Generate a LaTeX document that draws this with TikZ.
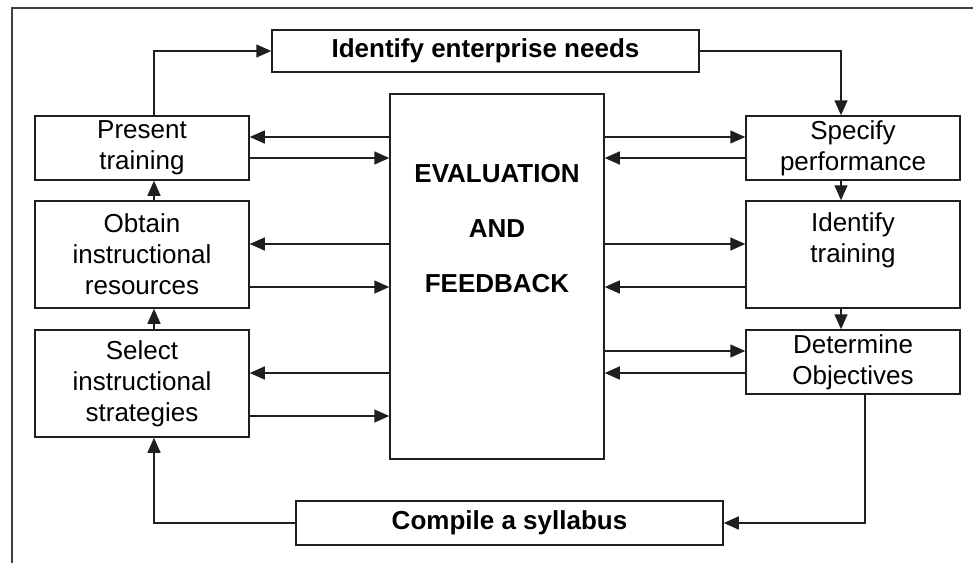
\documentclass[tikz,border=0pt]{standalone}
\usepackage{fontspec}
\setmainfont{Liberation Sans}
\usetikzlibrary{arrows.meta,calc}
\begin{document}
\begin{tikzpicture}[x=1pt,y=-1pt,
  line/.style={draw=black!88, line width=1.5pt},
  arr/.style={line, -{Triangle[length=15pt,width=13pt]}},
  txt/.style={align=center, font=\fontsize{26}{31}\selectfont},
  box/.style={line, rectangle, inner sep=0pt, minimum width=214pt, txt},
  wide/.style={line, rectangle, inner sep=0pt, minimum width=427pt,
    font=\fontsize{26}{31}\selectfont\bfseries}
]
\useasboundingbox (0,0) rectangle (973,563);

% outer frame
\draw[draw=black!75, line width=1.5pt] (973,8) -- (12,8) -- (12,563);

% top and bottom boxes
\node[wide, minimum height=42pt] (ien) at (485.5,51) {Identify enterprise needs};
\node[wide, minimum height=44pt] (cs) at (509.5,523) {Compile a syllabus};

% central box
\node[line, rectangle, inner sep=0pt, minimum width=214pt, minimum height=365pt] (ev) at (497,276.5) {};
\node[align=center, font=\fontsize{26}{55}\selectfont\bfseries] (evt) at (497,229)
  {EVALUATION\\AND\\FEEDBACK};

% left column
\node[box, minimum height=64pt]  (pt)  at (142,148)   {Present\\training};
\node[box, minimum height=107pt] (oir) at (142,254.5) {Obtain\\instructional\\resources};
\node[box, minimum height=107pt] (sis) at (142,383.5) {Select\\instructional\\strategies};

% right column
\node[box, minimum height=64pt]  (sp)  at (853,148)   {Specify\\performance};
\node[box, minimum height=107pt] (it)  at (853,254.5) {};
\node[txt] (itt) at (853,240) {Identify\\training};
\node[box, minimum height=64pt]  (dob) at (853,362)   {Determine\\Objectives};

% outer loop
\draw[arr] ($(pt.north)+(12,0)$) |- (ien.west);
\draw[arr] (ien.east) -| ($(sp.north)+(-12,0)$);
\draw[arr] ($(sp.south)+(-12,0)$) -- ($(it.north)+(-12,0)$);
\draw[arr] ($(it.south)+(-12,0)$) -- ($(dob.north)+(-12,0)$);
\draw[arr] ($(dob.south)+(12,0)$) |- (cs.east);
\draw[arr] (cs.west) -| ($(sis.south)+(12,0)$);
\draw[arr] ($(sis.north)+(12,0)$) -- ($(oir.south)+(12,0)$);
\draw[arr] ($(oir.north)+(12,0)$) -- ($(pt.south)+(12,0)$);

% evaluation and feedback links, left
\draw[arr] (ev.west |- 0,137) -- (pt.east |- 0,137);
\draw[arr] (pt.east |- 0,158) -- (ev.west |- 0,158);
\draw[arr] (ev.west |- 0,244) -- (oir.east |- 0,244);
\draw[arr] (oir.east |- 0,287) -- (ev.west |- 0,287);
\draw[arr] (ev.west |- 0,373) -- (sis.east |- 0,373);
\draw[arr] (sis.east |- 0,416) -- (ev.west |- 0,416);

% evaluation and feedback links, right
\draw[arr] (ev.east |- 0,137) -- (sp.west |- 0,137);
\draw[arr] (sp.west |- 0,158) -- (ev.east |- 0,158);
\draw[arr] (ev.east |- 0,244) -- (it.west |- 0,244);
\draw[arr] (it.west |- 0,287) -- (ev.east |- 0,287);
\draw[arr] (ev.east |- 0,351) -- (dob.west |- 0,351);
\draw[arr] (dob.west |- 0,373) -- (ev.east |- 0,373);
\end{tikzpicture}
\end{document}
